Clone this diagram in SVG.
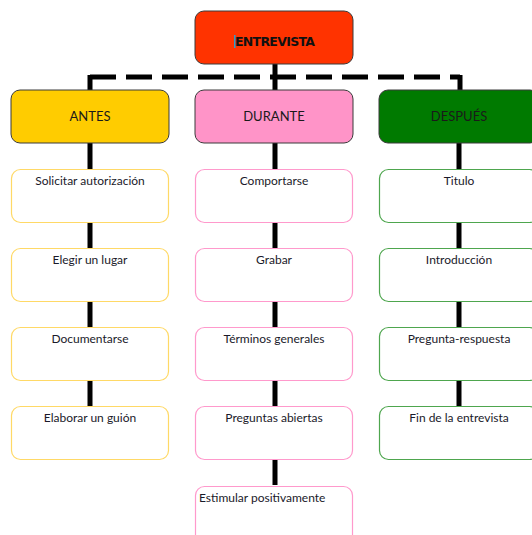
<svg xmlns="http://www.w3.org/2000/svg" width="532" height="535" viewBox="0 0 532 535">
<style>
.hd{stroke:#3a3a3a;stroke-width:1}
.ch{fill:#fff;stroke-width:1.2}
.a{stroke:#FFD966}
.d{stroke:#FF99CC}
.p{stroke:#4EA64E}
.t{font-family:Lato,"Open Sans",sans-serif;font-size:12px;fill:#1a1a2a;text-anchor:middle}
.ht{font-family:Lato,"Open Sans",sans-serif;font-size:13px;fill:#1a1a1a;text-anchor:middle}
.ln{stroke:#000;stroke-width:5;fill:none}
</style>
<rect width="532" height="535" fill="#fff"/>
<g id="connectors">
<path class="ln" d="M90 77 H460" stroke-dasharray="26 10"/>
<path class="ln" d="M275 64 V90 M90 75 V90 M460 75 V90"/>
<path class="ln" d="M90 143 V169 M90 222 V248 M90 301 V327 M90 380 V406"/>
<path class="ln" d="M275 143 V169 M275 222 V248 M275 301 V327 M275 380 V406 M275 459 V485"/>
<path class="ln" d="M459 143 V169 M459 222 V248 M459 301 V327 M459 380 V406"/>
</g>
<g id="entrevista">
<rect class="hd" x="195" y="11" width="158" height="53" rx="9" fill="#FF3300"/>
<rect x="234" y="35" width="1.5" height="13" fill="#2A9FD0"/>
<text x="275" y="46" font-family="'DejaVu Sans',sans-serif" font-weight="900" font-size="12.5px" fill="#111" text-anchor="middle" textLength="80">ENTREVISTA</text>
</g>
<g id="antes">
<rect class="hd" x="11" y="90" width="158" height="53" rx="9" fill="#FFCC00"/>
<text class="ht" x="90" y="121">ANTES</text>
</g>
<g id="durante">
<rect class="hd" x="195" y="90" width="158" height="53" rx="9" fill="#FF94C8"/>
<text class="ht" x="274" y="121">DURANTE</text>
</g>
<g id="despues">
<rect class="hd" x="379" y="90" width="160" height="53" rx="9" fill="#007A00"/>
<text class="ht" x="459" y="121">DESPUÉS</text>
</g>
<g id="a1"><rect class="ch a" x="11.5" y="169.5" width="157" height="53" rx="9"/><text class="t" x="90" y="185">Solicitar autorización</text></g>
<g id="a2"><rect class="ch a" x="11.5" y="248.5" width="157" height="53" rx="9"/><text class="t" x="90" y="264">Elegir un lugar</text></g>
<g id="a3"><rect class="ch a" x="11.5" y="327.5" width="157" height="53" rx="9"/><text class="t" x="90" y="343">Documentarse</text></g>
<g id="a4"><rect class="ch a" x="11.5" y="406.5" width="157" height="53" rx="9"/><text class="t" x="90" y="422">Elaborar un guión</text></g>
<g id="d1"><rect class="ch d" x="195.5" y="169.5" width="157" height="53" rx="9"/><text class="t" x="274" y="185">Comportarse</text></g>
<g id="d2"><rect class="ch d" x="195.5" y="248.5" width="157" height="53" rx="9"/><text class="t" x="274" y="264">Grabar</text></g>
<g id="d3"><rect class="ch d" x="195.5" y="327.5" width="157" height="53" rx="9"/><text class="t" x="274" y="343">Términos generales</text></g>
<g id="d4"><rect class="ch d" x="195.5" y="406.5" width="157" height="53" rx="9"/><text class="t" x="274" y="422">Preguntas abiertas</text></g>
<g id="d5"><rect class="ch d" x="195.5" y="486.5" width="157" height="60" rx="9"/><text class="t" x="199" y="502" style="text-anchor:start">Estimular positivamente</text></g>
<g id="p1"><rect class="ch p" x="379.5" y="169.5" width="159" height="53" rx="9"/><text class="t" x="459" y="185">Titulo</text></g>
<g id="p2"><rect class="ch p" x="379.5" y="248.5" width="159" height="53" rx="9"/><text class="t" x="459" y="264">Introducción</text></g>
<g id="p3"><rect class="ch p" x="379.5" y="327.5" width="159" height="53" rx="9"/><text class="t" x="459" y="343">Pregunta-respuesta</text></g>
<g id="p4"><rect class="ch p" x="379.5" y="406.5" width="159" height="53" rx="9"/><text class="t" x="459" y="422">Fin de la entrevista</text></g>
</svg>
